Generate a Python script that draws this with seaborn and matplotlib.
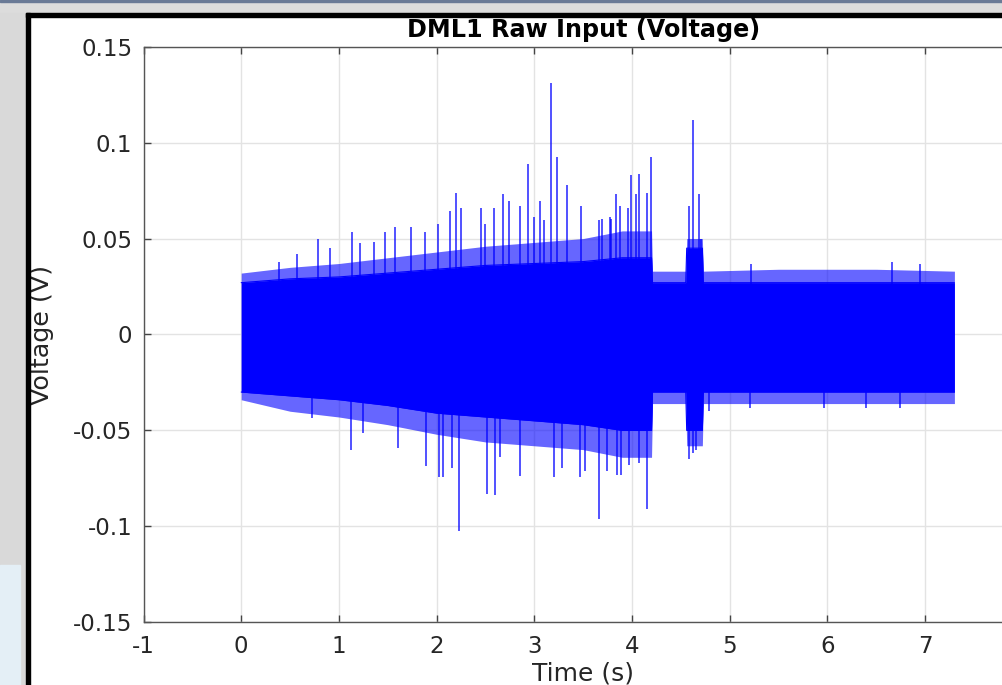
import seaborn as sns
import matplotlib.pyplot as plt
from matplotlib.patches import Rectangle

# envelope of the dense signal band (time in s, voltage in V)
env_t = [0, 0.5, 1.0, 1.5, 2.0, 2.5, 3.0, 3.5, 3.9, 4.2, 4.21, 4.55, 4.56, 4.72, 4.73, 5.5, 6.5, 7.3]
core_hi = [0.027, 0.029, 0.030, 0.032, 0.034, 0.036, 0.037, 0.038, 0.040, 0.040,
           0.027, 0.027, 0.045, 0.045, 0.027, 0.027, 0.027, 0.027]
core_lo = [-0.030, -0.032, -0.034, -0.037, -0.041, -0.043, -0.045, -0.047, -0.050, -0.050,
           -0.030, -0.030, -0.050, -0.050, -0.030, -0.030, -0.030, -0.030]
fringe_hi = [0.032, 0.035, 0.037, 0.040, 0.043, 0.046, 0.048, 0.050, 0.054, 0.054,
             0.033, 0.033, 0.050, 0.050, 0.033, 0.034, 0.034, 0.033]
fringe_lo = [-0.034, -0.040, -0.043, -0.047, -0.052, -0.056, -0.058, -0.060, -0.064, -0.064,
             -0.036, -0.036, -0.058, -0.058, -0.036, -0.036, -0.036, -0.036]

# isolated peaks sticking out of the band
spike_up_t = [0.39, 0.57, 0.79, 0.91, 1.13, 1.22, 1.36, 1.47, 1.57, 1.74, 1.88,
              2.01, 2.14, 2.2, 2.25, 2.45, 2.5, 2.59, 2.68, 2.74, 2.85, 2.94, 3.0,
              3.06, 3.1, 3.17, 3.23, 3.33, 3.48, 3.66, 3.69, 3.77, 3.79, 3.84, 3.88,
              3.96, 3.99, 4.04, 4.07, 4.15, 4.19, 4.58, 4.62, 4.69, 4.71,
              5.22, 6.66, 6.95]
spike_up_v = [0.038, 0.042, 0.0496, 0.045, 0.0535, 0.0475, 0.048, 0.0535, 0.056, 0.056, 0.0535,
              0.0578, 0.0644, 0.074, 0.066, 0.066, 0.0578, 0.066, 0.073, 0.0695, 0.067, 0.0887, 0.0613,
              0.0695, 0.0598, 0.1313, 0.0923, 0.078, 0.067, 0.0598, 0.060, 0.0613, 0.060, 0.073, 0.067,
              0.066, 0.083, 0.073, 0.0837, 0.074, 0.0923, 0.067, 0.1117, 0.0733, 0.050,
              0.0366, 0.0376, 0.0366]
spike_dn_t = [0.72, 1.12, 1.25, 1.61, 1.89, 2.02, 2.07, 2.16, 2.23, 2.52, 2.6, 2.65,
              2.85, 3.2, 3.28, 3.47, 3.52, 3.66, 3.74, 3.85, 3.89, 3.97, 4.07, 4.15,
              4.58, 4.62, 4.66, 4.79, 5.21, 5.97, 6.4, 6.74]
spike_dn_v = [-0.0437, -0.060, -0.0515, -0.059, -0.0683, -0.0743, -0.0743, -0.0697, -0.1022,
              -0.0829, -0.0839, -0.0637, -0.0735, -0.0743, -0.0697, -0.0743, -0.0709, -0.0959,
              -0.0709, -0.0731, -0.0731, -0.068, -0.0671, -0.0911,
              -0.065, -0.062, -0.060, -0.040, -0.0385, -0.0385, -0.0385, -0.0385]

x_ticks = [-1, 0, 1, 2, 3, 4, 5, 6, 7]
y_ticks = [-0.15, -0.1, -0.05, 0, 0.05, 0.1, 0.15]
y_tick_labels = ["-0.15", "-0.1", "-0.05", "0", "0.05", "0.1", "0.15"]

sns.set_theme(style="whitegrid")
plt.rcParams["font.family"] = ["DejaVu Sans"]
plt.rcParams["axes.unicode_minus"] = False

W, H = 1002, 685
fig = plt.figure(figsize=(W / 100, H / 100), dpi=100)
fig.patch.set_facecolor("white")

# screenshot frame: grey window chrome and black border
fig.add_artist(Rectangle((0, 1 - 13 / H), 1, 13 / H, transform=fig.transFigure,
                         color="#dcdcdc", zorder=0))
fig.add_artist(Rectangle((0, 1 - 1.5 / H), 1, 1.5 / H, transform=fig.transFigure,
                         color="#6a7a96", zorder=1))
fig.add_artist(Rectangle((0, 0), 26 / W, 1 - 13 / H, transform=fig.transFigure,
                         color="#d9d9d9", zorder=0))
fig.add_artist(Rectangle((0, 0), 20 / W, 120 / H, transform=fig.transFigure,
                         color="#e4eff6", zorder=0))
fig.add_artist(Rectangle((26 / W, 1 - 17 / H), 1, 4 / H, transform=fig.transFigure,
                         color="black", zorder=2))
fig.add_artist(Rectangle((26 / W, 0), 4 / W, 1 - 13 / H, transform=fig.transFigure,
                         color="black", zorder=2))

ax = fig.add_axes([143.5 / W, (H - 622.3) / H, 879.3 / W, 575.6 / H])
ax.set_facecolor("white")

ax.fill_between(env_t, fringe_lo, fringe_hi, color="blue", alpha=0.6, lw=0, zorder=2)
ax.fill_between(env_t, core_lo, core_hi, color="blue", lw=0, zorder=3)
sns.lineplot(x=env_t, y=core_hi, color="blue", lw=0.8, ax=ax, zorder=3)
sns.lineplot(x=env_t, y=core_lo, color="blue", lw=0.8, ax=ax, zorder=3)
ax.vlines(spike_up_t, 0, spike_up_v, color="blue", lw=1.2, alpha=0.8, zorder=3)
ax.vlines(spike_dn_t, 0, spike_dn_v, color="blue", lw=1.2, alpha=0.8, zorder=3)

ax.set_xlim(-1, 8)
ax.set_ylim(-0.15, 0.15)
ax.set_xticks(x_ticks)
ax.set_yticks(y_ticks)
ax.set_yticklabels(y_tick_labels)
ax.grid(True, color="#e3e3e3", lw=1.0)
ax.tick_params(direction="in", length=5, width=1, color="#444444",
               labelsize=16.5, labelcolor="#262626", top=True, right=True, left=True, bottom=True)
ax.tick_params(axis="x", pad=9)
ax.tick_params(axis="y", pad=8)
for s in ax.spines.values():
    s.set_color("#555555")
    s.set_linewidth(1.0)
    s.set_visible(True)

ax.set_title("DML1 Raw Input (Voltage)", fontsize=17.2, fontweight="bold", color="black", pad=6.8)
ax.set_xlabel("Time (s)", fontsize=18, color="#262626", labelpad=3)
ax.set_ylabel("Voltage (V)", fontsize=18.3, color="#262626", labelpad=14)

fig.savefig("out.png", dpi=100, facecolor=fig.get_facecolor())
